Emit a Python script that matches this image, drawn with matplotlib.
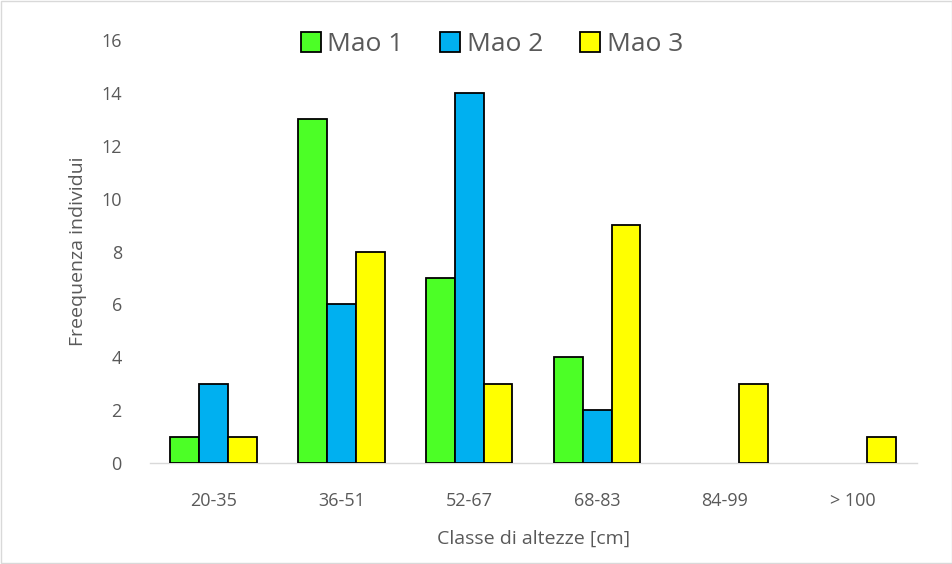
import numpy as np
import matplotlib
matplotlib.use('Agg')
from matplotlib import pyplot as plt
from matplotlib.patches import Rectangle

classes = ['20-35', '36-51', '52-67', '68-83', '84-99', '> 100']
mao1 = [1, 13, 7, 4, 0, 0]
mao2 = [3, 6, 14, 2, 0, 0]
mao3 = [1, 8, 3, 9, 3, 1]
series_names = ['Mao 1', 'Mao 2', 'Mao 3']
colors = ['#4CFF26', '#00B0F0', '#FFFF00']

plt.rcParams['font.family'] = ['Open Sans', 'DejaVu Sans']
txt = '#595959'

fig = plt.figure(figsize=(9.53, 5.64), dpi=100)
ax = fig.add_axes([0.157, 0.179, 0.805, 0.750])

x = np.arange(len(classes))
w = 0.225
for i, vals in enumerate([mao1, mao2, mao3]):
    bars = ax.bar(x + (i - 1) * w, vals, w, color=colors[i], edgecolor='black',
                  linewidth=1.3, label=series_names[i], zorder=3)
    # Excel draws nothing for empty classes
    for b, v in zip(bars, vals):
        if v == 0:
            b.set_visible(False)

ax.set_xlim(-0.5, len(classes) - 0.5)
ax.set_ylim(0, 16)
ax.set_yticks(range(0, 17, 2))
ax.set_xticks(x)
ax.set_xticklabels(classes)
ax.tick_params(axis='both', length=0, labelsize=13, colors=txt)
ax.tick_params(axis='y', pad=20)
ax.tick_params(axis='x', pad=21)
for s in ['top', 'right', 'left']:
    ax.spines[s].set_visible(False)
ax.spines['bottom'].set_color('#D9D9D9')
ax.spines['bottom'].set_linewidth(1)

ax.set_xlabel('Classe di altezze [cm]', fontsize=14, color=txt, labelpad=14)
ax.set_ylabel('Freequenza individui', fontsize=14, color=txt, labelpad=10)

leg = fig.legend(loc='upper center', bbox_to_anchor=(0.516, 0.985), ncol=3,
                 frameon=False, fontsize=19, handlelength=0.75, handleheight=0.75,
                 handletextpad=0.25, columnspacing=1.4, labelcolor=txt)

fig.patches.append(Rectangle((0.001, 0.001), 0.998, 0.997, transform=fig.transFigure,
                             fill=False, edgecolor='#D9D9D9', linewidth=1))

fig.savefig('out.png', dpi=100)
